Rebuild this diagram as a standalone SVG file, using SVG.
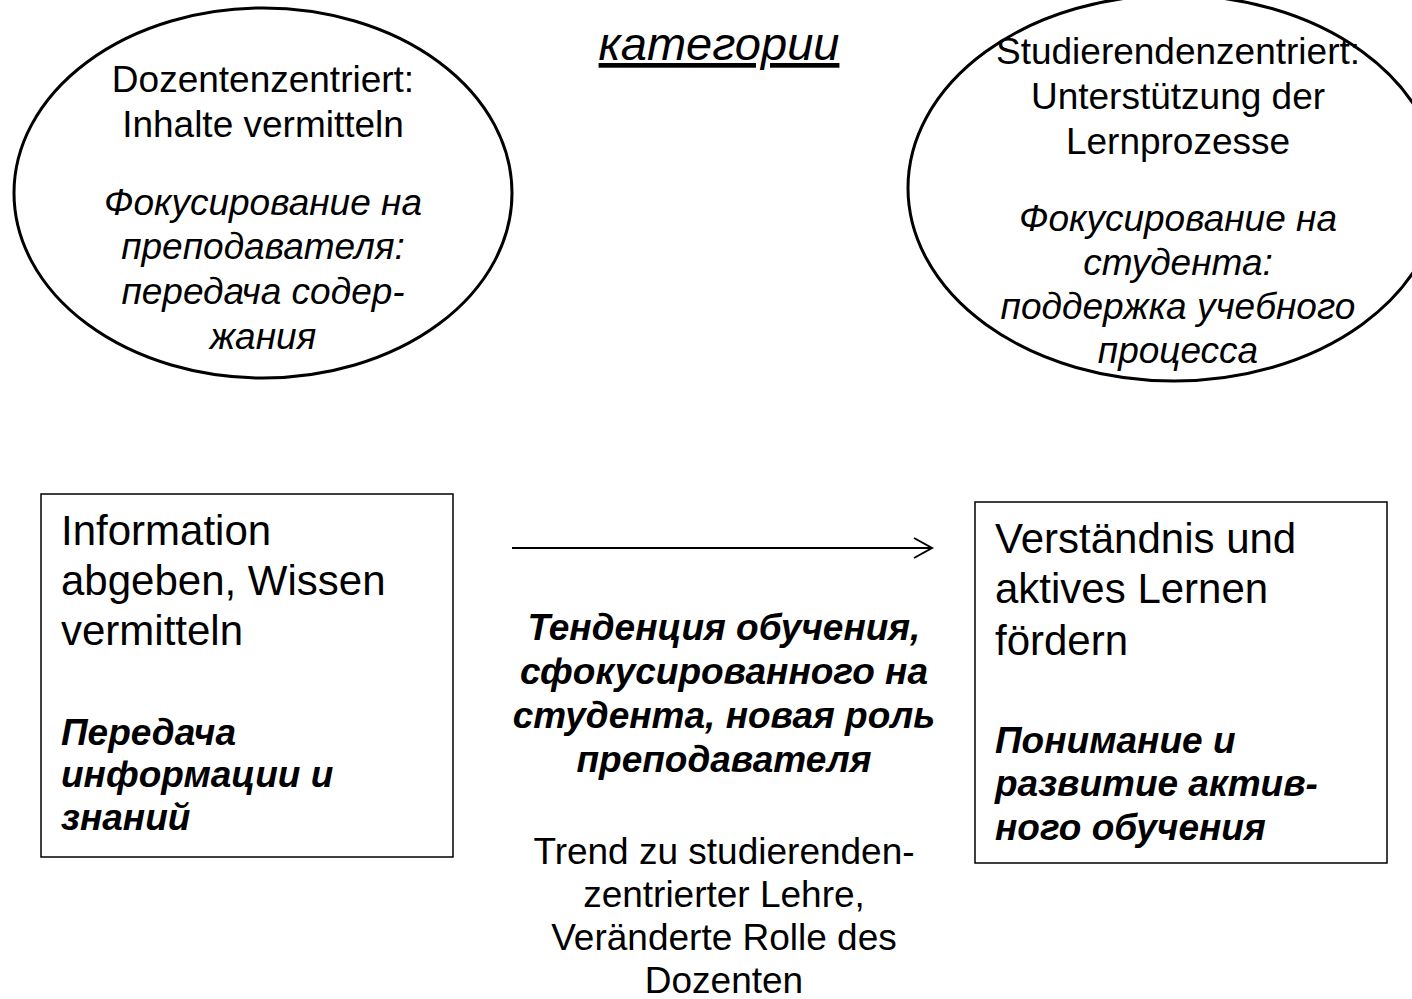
<svg xmlns="http://www.w3.org/2000/svg" width="1412" height="999" viewBox="0 0 1412 999">
<defs>
<style>
.t{font-family:"Liberation Sans",Arial,sans-serif;fill:#000}
.e{font-size:37px}
.ei{font-size:37px;font-style:italic}
.b{font-size:42px}
.bi{font-size:37px;font-style:italic;font-weight:bold}
.c{font-size:37px}
.ci{font-size:37px;font-style:italic;font-weight:bold}
.m{text-anchor:middle}
.shape{fill:none;stroke:#000}
</style>
<marker id="arr" markerWidth="24" markerHeight="24" refX="20" refY="11" orient="auto" markerUnits="userSpaceOnUse">
<path d="M2,1 L20,11 L2,21" fill="none" stroke="#000" stroke-width="2"/>
</marker>
</defs>
<rect width="1412" height="999" fill="#fff"/>
<g id="title">
<text class="t m" x="719" y="60" style="font-size:47px;font-style:italic;text-decoration:underline">категории</text>
</g>
<g id="ellipse-left">
<ellipse class="shape" cx="263" cy="193" rx="249" ry="185" stroke-width="3"/>
<text class="t e m" x="263" y="92">Dozentenzentriert:</text>
<text class="t e m" x="263" y="137">Inhalte vermitteln</text>
<text class="t ei m" x="263" y="215">Фокусирование на</text>
<text class="t ei m" x="263" y="259">преподавателя:</text>
<text class="t ei m" x="263" y="304">передача содер-</text>
<text class="t ei m" x="263" y="349">жания</text>
</g>
<g id="ellipse-right">
<ellipse class="shape" cx="1174" cy="188" rx="266" ry="193" stroke-width="3"/>
<text class="t e m" x="1178" y="64">Studierendenzentriert:</text>
<text class="t e m" x="1178" y="109">Unterstützung der</text>
<text class="t e m" x="1178" y="154">Lernprozesse</text>
<text class="t ei m" x="1178" y="231">Фокусирование на</text>
<text class="t ei m" x="1178" y="275">студента:</text>
<text class="t ei m" x="1178" y="319">поддержка учебного</text>
<text class="t ei m" x="1178" y="363">процесса</text>
</g>
<g id="box-left">
<rect class="shape" x="41" y="494" width="412" height="363" stroke-width="1.5"/>
<text class="t b" x="61" y="545">Information</text>
<text class="t b" x="61" y="595">abgeben, Wissen</text>
<text class="t b" x="61" y="645">vermitteln</text>
<text class="t bi" x="61" y="745">Передача</text>
<text class="t bi" x="61" y="787">информации и</text>
<text class="t bi" x="61" y="830">знаний</text>
</g>
<g id="box-right">
<rect class="shape" x="975" y="502" width="412" height="361" stroke-width="1.5"/>
<text class="t b" x="995" y="553">Verständnis und</text>
<text class="t b" x="995" y="603">aktives Lernen</text>
<text class="t b" x="995" y="655">fördern</text>
<text class="t bi" x="995" y="753">Понимание и</text>
<text class="t bi" x="995" y="796">развитие актив-</text>
<text class="t bi" x="995" y="840">ного обучения</text>
</g>
<g id="connectors">
<line x1="512" y1="548" x2="932" y2="548" stroke="#000" stroke-width="2" marker-end="url(#arr)"/>
</g>
<g id="center-label">
<text class="t ci m" x="724" y="640">Тенденция обучения,</text>
<text class="t ci m" x="724" y="684">сфокусированного на</text>
<text class="t ci m" x="724" y="728">студента, новая роль</text>
<text class="t ci m" x="724" y="772">преподавателя</text>
<text class="t c m" x="724" y="864">Trend zu studierenden-</text>
<text class="t c m" x="724" y="907">zentrierter Lehre,</text>
<text class="t c m" x="724" y="950">Veränderte Rolle des</text>
<text class="t c m" x="724" y="993">Dozenten</text>
</g>
</svg>
